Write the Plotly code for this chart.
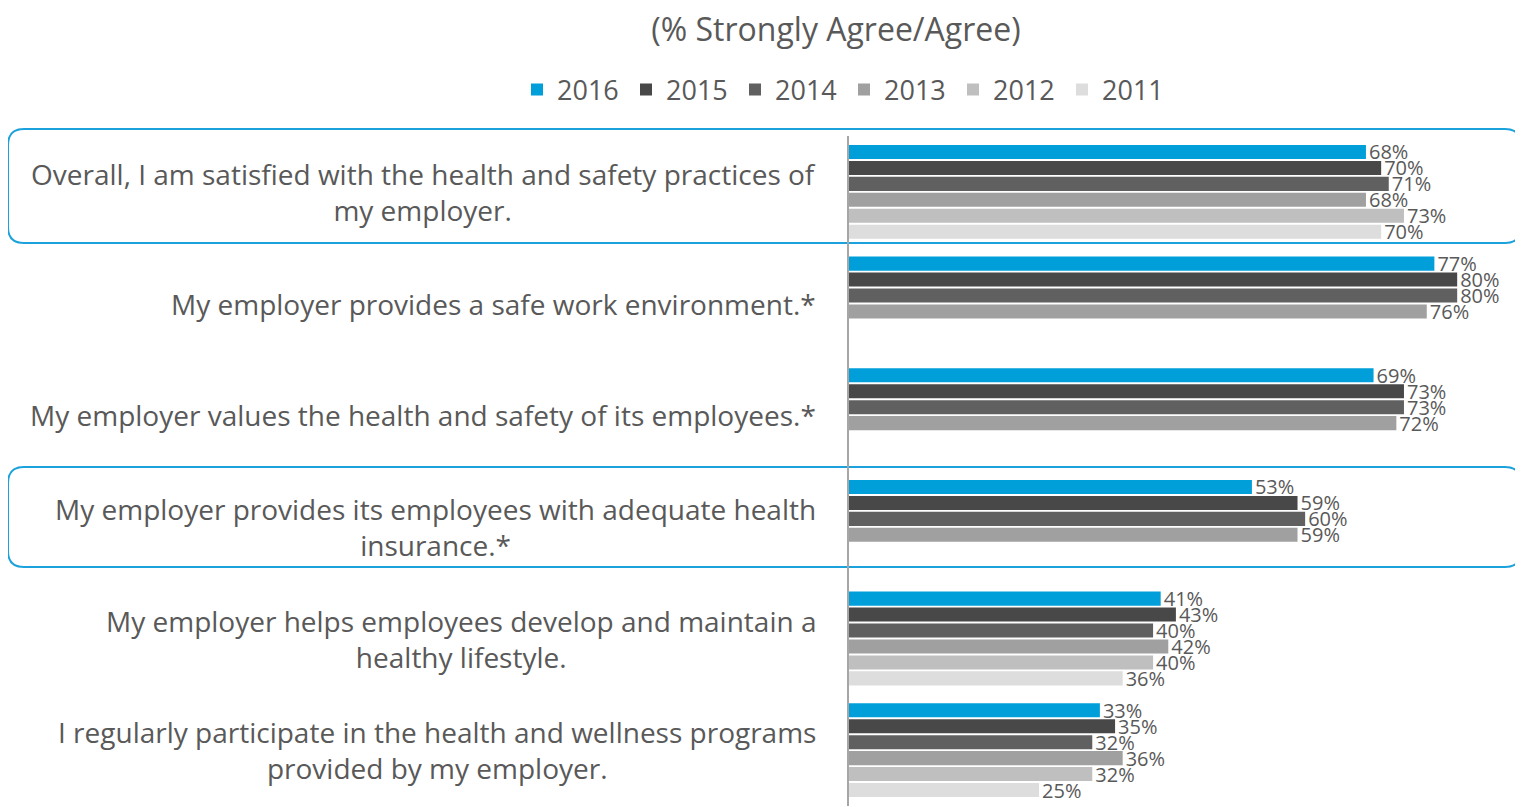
import plotly.graph_objects as go

questions = [
    "Overall, I am satisfied with the health and safety practices of<br>my employer.",
    "My employer provides a safe work environment.*",
    "My employer values the health and safety of its employees.*",
    "My employer provides its employees with adequate health<br>insurance.*",
    "My employer helps employees develop and maintain a<br>healthy lifestyle.",
    "I regularly participate in the health and wellness programs<br>provided by my employer.",
]
cats = ["Q1", "Q2", "Q3", "Q4", "Q5", "Q6"]
years = ["2016", "2015", "2014", "2013", "2012", "2011"]
v2016 = [68, 77, 69, 53, 41, 33]
v2015 = [70, 80, 73, 59, 43, 35]
v2014 = [71, 80, 73, 60, 40, 32]
v2013 = [68, 76, 72, 59, 42, 36]
v2012 = [73, None, None, None, 40, 32]
v2011 = [70, None, None, None, 36, 25]
series = [v2016, v2015, v2014, v2013, v2012, v2011]
colors = ["#009FDA", "#484848", "#606060", "#A0A0A0", "#BFBFBF", "#DDDDDD"]

FONT = "Open Sans"
TXT = "#595959"

O = 8  # page body margin offset
W, H = 1523 - O, 807 - O
L, R, T, B = 849 - O, 5, 136 - O, 1
pw = W - L - R
ph = H - T - B

fig = go.Figure()
for yr, vals, col in zip(years, series, colors):
    fig.add_trace(go.Bar(
        name=yr, y=cats, x=vals, orientation="h",
        marker=dict(color=col, line=dict(width=0)),
        text=[f"{v}%" if v is not None else "" for v in vals],
        textposition="outside", cliponaxis=False, constraintext="none",
        textfont=dict(family=FONT, size=20, color=TXT),
    ))

def px_x(p):
    return (p - O - L) / pw

def px_y(p):
    return (H - B - (p - O)) / ph

def rounded_box(x0, y0, x1, y1, r):
    X0, X1 = px_x(x0), px_x(x1)
    Y0, Y1 = px_y(y0), px_y(y1)
    rx = r / pw
    ry = r / ph
    return (f"M {X0+rx},{Y0} L {X1-rx},{Y0} Q {X1},{Y0} {X1},{Y0-ry} "
            f"L {X1},{Y1+ry} Q {X1},{Y1} {X1-rx},{Y1} "
            f"L {X0+rx},{Y1} Q {X0},{Y1} {X0},{Y1+ry} "
            f"L {X0},{Y0-ry} Q {X0},{Y0} {X0+rx},{Y0} Z")

for (y0, y1) in [(129, 243), (467, 567)]:
    fig.add_shape(type="path", xref="paper", yref="paper",
                  path=rounded_box(8, y0, 1521, y1, 16),
                  line=dict(color="#1BA1DB", width=2), fillcolor="rgba(0,0,0,0)",
                  layer="below")

for c, q in zip(cats, questions):
    fig.add_annotation(text=q, x=px_x(818), xref="paper", y=c, yref="y",
                       xanchor="right", yanchor="middle", align="center",
                       showarrow=False, font=dict(family=FONT, size=28, color=TXT))

fig.update_layout(
    width=W, height=H,
    margin=dict(l=L, r=R, t=T, b=B, pad=0),
    paper_bgcolor="white", plot_bgcolor="white",
    barmode="group", bargap=0.143, bargroupgap=0.12,
    title=dict(text="(% Strongly Agree/Agree)", x=(836 - O) / W, xanchor="center",
               y=1 - (30 - O) / H, yanchor="middle",
               font=dict(family=FONT, size=32, color=TXT)),
    legend=dict(orientation="h", x=(844 - O) / W, xref="container", xanchor="center",
                y=1 - (90 - O) / H, yref="container", yanchor="middle",
                bgcolor="rgba(0,0,0,0)",
                font=dict(family=FONT, size=27, color=TXT),
                itemwidth=30, traceorder="normal", entrywidth=64),
    xaxis=dict(range=[0, 88], visible=False),
    yaxis=dict(categoryorder="array", categoryarray=cats, autorange="reversed",
               showticklabels=False, showline=True, linecolor="#A6A6A6", linewidth=2,
               ticks="", showgrid=False, zeroline=False),
    showlegend=True,
)

fig.write_html("out.html")
